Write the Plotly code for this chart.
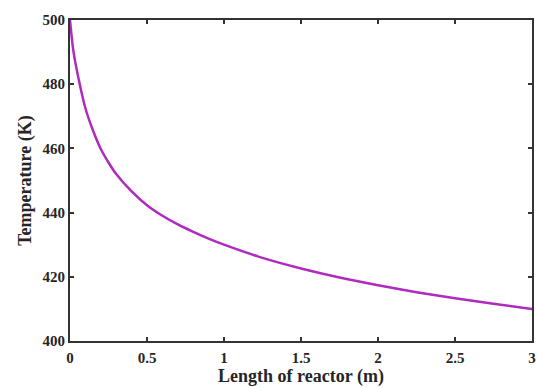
import plotly.graph_objects as go

length_m = [0, 0.02, 0.05, 0.1, 0.15, 0.2, 0.25, 0.3, 0.4, 0.5, 0.6, 0.7, 0.8, 0.9, 1.0,
            1.25, 1.5, 1.75, 2.0, 2.25, 2.5, 2.75, 3.0]
temperature_K = [500, 491, 483, 472.5, 465.5, 459.8, 455.6, 452.0, 446.6, 442.3, 439.0, 436.3, 434.0, 431.9, 430.0,
                 425.9, 422.6, 419.8, 417.4, 415.2, 413.3, 411.6, 410.0]

x_ticks = [0, 0.5, 1, 1.5, 2, 2.5, 3]
x_ticklabels = ["0", "0.5", "1", "1.5", "2", "2.5", "3"]
y_ticks = [400, 420, 440, 460, 480, 500]

font_family = "Liberation Serif"
text_color = "#262626"

fig = go.Figure()
fig.add_trace(go.Scatter(x=length_m, y=temperature_K, mode="lines",
                         line=dict(color="#B02AC0", width=2.5, shape="spline", smoothing=0.6),
                         showlegend=False))

axis_common = dict(showline=True, linecolor="#333333", linewidth=2, mirror="allticks",
                   ticks="inside", ticklen=4, tickwidth=1.5, tickcolor="#333333",
                   showgrid=False, zeroline=False, ticklabeloverflow="allow",
                   tickfont=dict(family=font_family, size=15, color=text_color, weight="bold"))

fig.update_layout(
    width=537, height=388,
    margin=dict(l=70, r=1, t=20, b=47),
    paper_bgcolor="white", plot_bgcolor="white",
    font=dict(family=font_family),
    xaxis=dict(range=[0, 3], tickvals=x_ticks, ticktext=x_ticklabels, ticklabelstandoff=2,
               title=dict(text="Length of reactor (m)", standoff=4,
                          font=dict(family=font_family, size=18, color=text_color, weight="bold")),
               **axis_common),
    yaxis=dict(range=[400, 500], tickvals=y_ticks,
               title=dict(text="Temperature (K)", standoff=6,
                          font=dict(family=font_family, size=18, color=text_color, weight="bold")),
               **axis_common),
)

fig.write_html("out.html")
